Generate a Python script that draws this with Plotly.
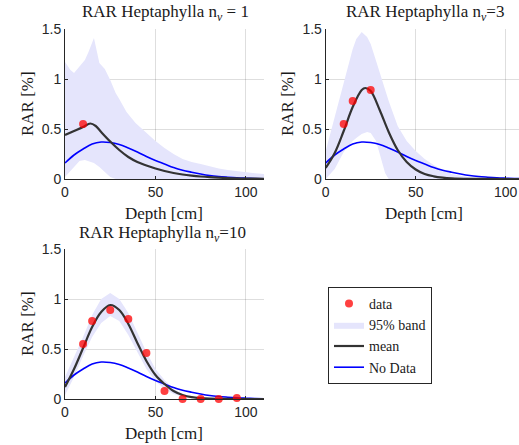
import plotly.graph_objects as go

# Depth grid for smooth curves [cm]
depth = [0, 5, 10, 15, 20, 25, 30, 35, 40, 45, 50, 55, 60, 65, 70, 75, 80, 85, 90, 95, 100, 105, 110]

# "No Data" prior curve, same in every panel
nodata = [0.16, 0.24, 0.30, 0.35, 0.37, 0.365, 0.345, 0.31, 0.27, 0.225, 0.185, 0.15, 0.115, 0.088,
          0.068, 0.05, 0.035, 0.025, 0.018, 0.012, 0.008, 0.005, 0.003]

# n_v = 1
d1_depth = [10]
d1_rar = [0.55]
m1_depth = [0, 5, 10, 14, 17, 20, 25, 30, 35, 40, 45, 50, 55, 60, 65, 70, 75, 80, 85, 90, 95, 100, 105, 110]
m1_rar = [0.44, 0.48, 0.52, 0.555, 0.53, 0.47, 0.375, 0.29, 0.22, 0.17, 0.135, 0.105, 0.08, 0.06,
          0.045, 0.034, 0.025, 0.018, 0.013, 0.009, 0.006, 0.004, 0.003, 0.002]
b1_depth = [0, 3, 5, 8, 11, 13, 16, 19, 22, 25, 28, 30, 34, 39, 45, 50, 55, 60, 65, 70, 75, 80,
            85, 90, 95, 100, 105, 110]
b1_upper = [1.17, 1.09, 1.06, 1.12, 1.19, 1.27, 1.41, 1.16, 1.1, 0.99, 0.86, 0.8, 0.67, 0.56, 0.46,
            0.38, 0.31, 0.25, 0.2, 0.17, 0.15, 0.125, 0.105, 0.09, 0.078, 0.068, 0.058, 0.05]
b1_lower = [0.02, 0.08, 0.13, 0.18, 0.19, 0.18, 0.16, 0.12, 0.07, 0.02, 0.0, 0.0, 0.0, 0.0, 0.0,
            0.0, 0.0, 0.0, 0.0, 0.0, 0.0, 0.0, 0.0, 0.0, 0.0, 0.0, 0.0, 0.0]

# n_v = 3
d3_depth = [10, 15, 25]
d3_rar = [0.55, 0.78, 0.89]
m3_depth = [0, 5, 10, 15, 20, 22, 25, 30, 35, 40, 45, 50, 55, 60, 65, 70, 80, 90, 100, 110]
m3_rar = [0.11, 0.26, 0.48, 0.72, 0.89, 0.91, 0.88, 0.69, 0.47, 0.29, 0.17, 0.095, 0.05, 0.027,
          0.014, 0.007, 0.002, 0.001, 0.0, 0.0]
b3_depth = [0, 5, 10, 15, 17, 20, 23, 25, 28, 30, 33, 35, 40, 45, 50, 55, 60, 65, 70, 80, 90, 100, 110]
b3_upper = [0.28, 0.62, 0.98, 1.3, 1.4, 1.47, 1.42, 1.35, 1.18, 1.06, 0.88, 0.78, 0.53, 0.38, 0.28,
            0.2, 0.14, 0.09, 0.05, 0.015, 0.004, 0.001, 0.0]
b3_lower = [0.0, 0.1, 0.27, 0.38, 0.41, 0.45, 0.47, 0.46, 0.38, 0.25, 0.06, 0.0, 0.0, 0.0, 0.0, 0.0,
            0.0, 0.0, 0.0, 0.0, 0.0, 0.0, 0.0]

# n_v = 10
d10_depth = [10, 15, 25, 35, 45, 55, 65, 75, 85, 95]
d10_rar = [0.55, 0.78, 0.89, 0.80, 0.46, 0.08, 0.0, 0.0, 0.0, 0.01]
m10_depth = [0, 5, 10, 15, 20, 25, 30, 35, 40, 45, 50, 55, 60, 65, 70, 75, 80, 90, 100, 110]
m10_rar = [0.12, 0.3, 0.51, 0.72, 0.87, 0.94, 0.89, 0.75, 0.56, 0.38, 0.24, 0.15, 0.08, 0.04,
           0.018, 0.008, 0.003, 0.001, 0.0, 0.0]
b10_upper = [0.22, 0.42, 0.62, 0.84, 1.0, 1.06, 1.0, 0.86, 0.66, 0.47, 0.3, 0.19, 0.1, 0.05,
             0.025, 0.012, 0.006, 0.001, 0.0, 0.0]
b10_lower = [0.04, 0.22, 0.43, 0.62, 0.76, 0.83, 0.78, 0.64, 0.47, 0.3, 0.18, 0.1, 0.05, 0.022,
             0.009, 0.003, 0.001, 0.0, 0.0, 0.0]

SERIF = "Liberation Serif"
SANS = "Liberation Sans"
BAND = "rgb(229,229,252)"
MEAN = "#333333"
INK = "#262626"
W, H = 519, 445

fig = go.Figure()


def add_panel(n, bx, blo, bup, mx, my, dx, dy, legend):
    xa = "x" if n == 1 else f"x{n}"
    ya = "y" if n == 1 else f"y{n}"
    fig.add_trace(go.Scatter(x=bx, y=blo, mode="lines", line=dict(width=0), showlegend=False,
                             hoverinfo="skip", xaxis=xa, yaxis=ya))
    fig.add_trace(go.Scatter(x=bx, y=bup, mode="lines", line=dict(width=0), fill="tonexty",
                             fillcolor=BAND, name="95% band", showlegend=legend, legendrank=2,
                             xaxis=xa, yaxis=ya))
    fig.add_trace(go.Scatter(x=depth, y=nodata, mode="lines", line=dict(color="blue", width=1.6, shape="spline"),
                             name="No Data", showlegend=legend, legendrank=4, xaxis=xa, yaxis=ya))
    fig.add_trace(go.Scatter(x=mx, y=my, mode="lines", line=dict(color=MEAN, width=2.2, shape="spline"),
                             name="mean", showlegend=legend, legendrank=3, xaxis=xa, yaxis=ya))
    fig.add_trace(go.Scatter(x=dx, y=dy, mode="markers", marker=dict(color="red", size=8, opacity=0.75),
                             cliponaxis=False, name="data", showlegend=legend, legendrank=1,
                             xaxis=xa, yaxis=ya))


add_panel(1, b1_depth, b1_lower, b1_upper, m1_depth, m1_rar, d1_depth, d1_rar, True)
add_panel(2, b3_depth, b3_lower, b3_upper, m3_depth, m3_rar, d3_depth, d3_rar, False)
add_panel(3, m10_depth, b10_lower, b10_upper, m10_depth, m10_rar, d10_depth, d10_rar, False)


def xax(x0, x1, xmax, anchor):
    return dict(domain=[x0 / W, x1 / W], range=[0, xmax], anchor=anchor, automargin=False,
                tickvals=[0, 50, 100], ticks="inside", ticklen=3, tickcolor=INK,
                showline=True, linecolor=INK, linewidth=1, mirror=False,
                showgrid=True, gridcolor="rgba(0,0,0,0.13)", zeroline=False,
                tickfont=dict(family=SANS, size=14, color=INK))


def yax(y_top, y_bot, anchor):
    return dict(domain=[1 - y_bot / H, 1 - y_top / H], range=[0, 1.5], anchor=anchor, automargin=False,
                tickvals=[0, 0.5, 1, 1.5], ticktext=["0", "0.5", "1", "1.5"],
                ticks="inside", ticklen=3, tickcolor=INK,
                showline=True, linecolor=INK, linewidth=1,
                showgrid=True, gridcolor="rgba(0,0,0,0.13)", zeroline=False,
                tickfont=dict(family=SANS, size=14, color=INK))


# (text, x px, y px, rotation)
labels = [
    ("RAR Heptaphylla n<sub><i>v</i></sub> = 1", 165, 13, 0),
    ("RAR Heptaphylla n<sub><i>v</i></sub>=3", 425, 13, 0),
    ("RAR Heptaphylla n<sub><i>v</i></sub>=10", 162, 234, 0),
    ("Depth [cm]", 164, 213, 0),
    ("Depth [cm]", 424, 213, 0),
    ("Depth [cm]", 164, 433, 0),
    ("RAR [%]", 27, 104, -90),
    ("RAR [%]", 287, 104, -90),
    ("RAR [%]", 27, 324, -90),
]

fig.update_layout(
    width=W, height=H,
    margin=dict(l=0, r=0, t=0, b=0),
    font=dict(family=SERIF, color=INK),
    paper_bgcolor="white", plot_bgcolor="white",
    xaxis=xax(65, 264, 110, "y"),
    yaxis=yax(29, 179, "x"),
    xaxis2=xax(325.7, 519, 107.4, "y2"),
    yaxis2=yax(29, 179, "x2"),
    xaxis3=xax(65, 264, 110, "y3"),
    yaxis3=yax(249, 399, "x3"),
    annotations=[dict(text=t, x=x / W, y=1 - y / H, xref="paper", yref="paper", showarrow=False,
                      xanchor="center", yanchor="middle", textangle=a,
                      font=dict(family=SERIF, size=17, color="#1a1a1a")) for t, x, y, a in labels],
    legend=dict(x=328 / W, y=1 - 287 / H, xanchor="left", yanchor="top", traceorder="normal",
                bgcolor="white", bordercolor=INK, borderwidth=1,
                font=dict(family=SERIF, size=14, color="#1a1a1a"),
                tracegroupgap=0, itemwidth=30),
    showlegend=True,
)

# page body margin off so the figure sits at the window origin
fig.write_html("out.html", config={"displayModeBar": False},
               post_script="document.body.style.margin='0';")
